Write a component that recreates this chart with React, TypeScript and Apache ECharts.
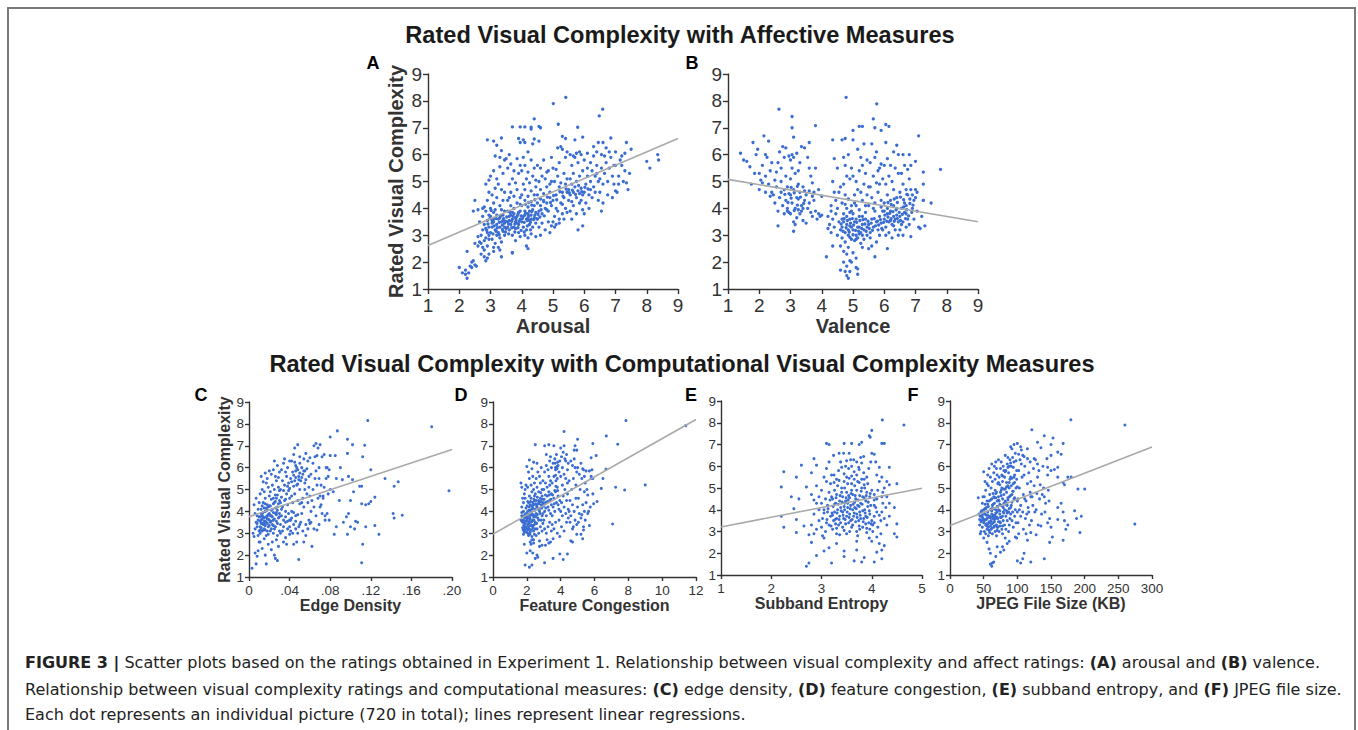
import React, { useEffect, useRef } from 'react';
import * as echarts from 'echarts';

const FONT = '"Liberation Sans", Arial, Helvetica, sans-serif';
const CAPFONT = '"DejaVu Sans", "Liberation Sans", Arial, sans-serif';
const DOT = '#3a6dd1';
const REG = '#a9a9a9';
const INK = '#333333';

// ---------- data ----------
const arousalPts: number[][] = [
  [2.0,1.8],[2.1,1.6],[2.2,1.55],[2.25,1.4],[2.3,1.6],[2.2,1.7],[2.35,1.85],[2.4,1.8],[2.4,2.0],[2.5,1.9],[2.55,1.85],[2.45,2.05],[2.25,2.4],[2.5,2.7],[2.6,2.6],[2.75,2.55],[2.8,2.2],[2.85,2.05],[2.95,2.3],[3.1,2.4],[3.35,2.2],[3.7,2.35],[4.15,2.6],[4.2,2.5],[5.8,3.2],[5.95,3.35],[2.5,4.3],[2.45,3.9],
  [2.7,3.0],[2.75,3.2],[2.8,3.4],[2.85,2.9],[2.9,3.1],[2.95,3.3],[2.7,2.7],[2.8,2.8],[2.9,2.6],[2.95,2.85],[2.65,3.5],[2.75,3.7],[2.85,3.9],[2.8,4.05],[2.9,4.3],[2.95,4.6],[2.85,4.9],[2.95,5.05],[2.75,4.0],[2.6,3.95],[2.9,3.55],[2.95,3.75],[2.7,2.3],[2.8,2.45],[2.9,2.15],[2.95,3.0],[2.85,3.25],[2.6,2.95],[2.65,2.75],
  [3.0,3.1],[3.05,3.3],[3.1,3.5],[3.15,3.2],[3.2,3.4],[3.25,3.6],[3.3,3.3],[3.35,3.5],[3.4,3.15],[3.45,3.45],[3.0,3.7],[3.1,3.85],[3.2,3.0],[3.3,2.9],[3.4,3.75],[3.05,2.85],[3.15,2.7],[3.25,2.55],[3.35,2.75],[3.45,3.0],[3.0,4.0],[3.1,4.2],[3.2,4.4],[3.3,4.1],[3.4,4.3],[3.45,4.6],[3.05,4.5],[3.15,4.75],[3.25,4.9],[3.35,4.7],[3.0,5.2],[3.1,5.4],[3.2,5.1],[3.3,5.55],[3.4,5.3],[3.45,5.8],[3.3,5.9],[3.15,5.95],[3.5,5.85],[3.2,6.35],[3.35,6.15],[3.1,3.6],[3.2,3.75],[3.3,3.65],[3.4,3.55],[3.45,3.3],[3.25,3.1],[3.05,3.45],[3.35,3.95],[3.45,3.9],[3.15,3.95],[3.5,3.25],[3.1,2.55],[3.3,2.45],[2.9,6.55],[3.1,6.5],[3.35,6.62],
  [3.55,3.5],[3.6,3.7],[3.65,3.4],[3.7,3.6],[3.75,3.8],[3.8,3.5],[3.85,3.7],[3.9,3.4],[3.95,3.6],[3.55,3.9],[3.65,4.1],[3.75,4.0],[3.85,4.2],[3.95,3.9],[3.6,3.2],[3.7,3.0],[3.8,3.25],[3.9,3.1],[3.55,4.3],[3.65,4.6],[3.75,4.45],[3.85,4.7],[3.95,4.4],[3.6,4.9],[3.7,5.1],[3.8,4.95],[3.9,5.3],[3.55,5.5],[3.65,5.65],[3.75,5.4],[3.85,5.85],[3.95,5.6],[3.6,6.0],[3.7,2.35],[3.8,2.8],[3.95,2.95],[3.6,3.55],[3.7,3.85],[3.8,3.65],[3.9,3.85],[3.55,3.3],[3.65,3.75],[3.75,3.3],[3.85,3.45],[3.95,4.15],[3.6,4.4],[3.9,6.6],[3.95,6.45],[3.7,7.03],[3.95,7.03],
  [4.0,3.5],[4.05,3.7],[4.1,3.9],[4.15,3.6],[4.2,3.8],[4.25,3.55],[4.3,3.75],[4.35,3.95],[4.4,3.65],[4.45,3.85],[4.0,4.1],[4.1,4.3],[4.2,4.05],[4.3,4.25],[4.4,4.1],[4.05,3.3],[4.15,3.2],[4.25,3.4],[4.35,3.3],[4.45,3.45],[4.0,4.5],[4.1,4.7],[4.2,4.45],[4.3,4.65],[4.4,4.5],[4.45,4.8],[4.05,4.9],[4.15,5.1],[4.25,4.95],[4.35,5.2],[4.45,5.05],[4.0,5.4],[4.1,5.6],[4.2,5.35],[4.3,5.8],[4.4,5.5],[4.05,5.9],[4.2,6.1],[4.1,3.0],[4.2,2.9],[4.3,3.05],[4.45,2.95],[4.05,6.55],[4.1,6.45],[4.1,7.03],[4.3,6.95],[4.4,7.33],[4.35,6.4],[4.2,3.65],[4.3,3.6],[4.1,3.75],[4.25,3.9],[4.4,6.58],[4.3,7.02],
  [4.5,3.6],[4.55,3.9],[4.6,4.1],[4.65,3.8],[4.7,4.3],[4.75,4.0],[4.8,4.2],[4.85,3.9],[4.9,4.4],[4.95,4.1],[4.5,4.5],[4.6,4.7],[4.7,4.55],[4.8,4.8],[4.9,4.6],[4.55,5.0],[4.65,5.2],[4.75,5.1],[4.85,5.4],[4.95,5.0],[4.5,5.6],[4.6,5.5],[4.7,5.8],[4.8,5.35],[4.55,3.3],[4.65,3.45],[4.75,3.2],[4.85,3.5],[4.95,3.35],[4.6,3.0],[4.9,3.1],[4.55,6.5],[4.6,7.0],[4.55,7.05],[4.95,5.9],[4.7,4.25],[4.8,3.95],[4.5,4.2],[4.9,4.9],[4.6,4.35],
  [5.0,3.5],[5.05,3.7],[5.1,3.4],[5.15,3.9],[5.2,3.6],[5.25,4.2],[5.3,3.8],[5.35,4.4],[5.4,4.0],[5.45,4.6],[5.0,4.3],[5.1,4.5],[5.2,4.8],[5.3,4.6],[5.4,4.9],[5.05,5.0],[5.15,5.2],[5.25,4.95],[5.35,5.3],[5.45,5.1],[5.0,5.5],[5.1,5.45],[5.2,5.7],[5.3,6.2],[5.4,5.9],[5.45,6.1],[5.25,6.3],[5.15,6.25],[5.05,3.3],[5.2,3.45],[5.35,3.6],[5.45,3.85],[5.3,6.68],[5.4,6.6],[5.41,8.13],[5.01,7.9],[5.17,7.13],[5.5,4.3],[5.3,4.15],[5.1,4.0],
  [5.5,4.7],[5.55,4.5],[5.6,4.9],[5.65,4.6],[5.7,4.8],[5.75,4.4],[5.8,4.65],[5.85,4.55],[5.9,4.75],[5.95,4.5],[5.55,5.1],[5.65,5.3],[5.75,5.0],[5.85,5.2],[5.95,5.4],[5.6,5.6],[5.7,5.9],[5.8,5.7],[5.9,6.0],[5.55,6.0],[5.65,5.95],[5.75,6.05],[5.85,6.1],[5.55,3.9],[5.65,4.1],[5.75,3.8],[5.85,4.2],[5.95,3.95],[5.6,3.6],[5.7,6.55],[5.95,6.65],[5.79,7.02],[5.9,4.3],[5.6,4.25],
  [6.0,4.6],[6.05,4.9],[6.1,5.2],[6.15,4.5],[6.2,5.0],[6.25,5.4],[6.3,4.8],[6.35,5.2],[6.4,5.6],[6.45,5.0],[6.0,5.8],[6.1,6.05],[6.2,5.7],[6.3,5.95],[6.4,6.1],[6.05,4.2],[6.15,4.0],[6.25,4.4],[6.35,4.6],[6.45,4.3],[6.0,3.8],[6.1,5.5],[6.3,6.3],[6.45,6.45],[6.2,4.7],[6.4,5.3],
  [6.5,5.1],[6.55,5.5],[6.6,4.9],[6.65,5.3],[6.7,5.7],[6.75,5.0],[6.8,5.5],[6.85,5.9],[6.9,5.2],[6.95,5.6],[6.55,6.0],[6.7,6.25],[6.85,6.62],[6.6,6.45],[6.5,4.6],[6.6,4.2],[6.55,3.9],[6.75,4.5],[6.9,4.4],[6.95,4.9],[6.65,5.95],[6.8,6.1],[6.48,7.44],[6.59,7.69],
  [7.0,5.6],[7.05,4.6],[7.1,5.2],[7.15,5.8],[7.2,5.6],[7.25,5.0],[7.3,5.4],[7.35,4.95],[7.4,4.7],[7.3,6.05],[7.35,6.45],[7.5,6.2],[7.0,6.1],[7.1,4.9],[7.2,5.95],[8.0,5.75],[8.1,5.5],[8.35,6.0],[8.38,5.8],[7.45,5.3],[7.0,4.65]
];
const arousalCorePts: number[][] = [
  [3.05,3.55],[3.12,3.35],[3.18,3.62],[3.22,3.28],[3.28,3.48],[3.32,3.72],[3.38,3.38],[3.42,3.62],[3.48,3.52],[3.52,3.68],[3.58,3.42],[3.62,3.85],[3.68,3.52],[3.72,3.7],[3.78,3.42],[3.82,3.58],[3.88,3.78],[3.92,3.52],[3.98,3.72],[4.02,3.62],[4.08,3.48],[4.12,3.82],[4.18,3.55],[4.22,3.72],[4.28,3.48],[4.32,3.88],[4.38,3.58],[4.42,3.75],[4.48,3.62],[4.52,3.78],[4.58,3.68],[3.08,3.05],[3.18,3.15],[3.28,3.02],[3.38,3.22],[3.48,3.12],[3.58,3.05],[3.68,3.28],[3.78,3.12],[3.88,3.28],[3.98,3.18],[4.08,3.12],[4.18,3.35],[4.28,3.2],[2.92,3.42],[2.98,3.62],[2.88,3.18],[3.02,3.92],[4.12,4.15],[4.22,4.22],[4.32,4.12],[4.42,4.32],[4.62,3.95],[4.72,3.72],[4.82,4.42],[4.92,4.22],[5.02,4.48],[5.12,4.32],[5.22,4.62],[5.32,4.45],[5.42,4.72],[5.52,4.58],[5.62,4.68],[5.72,4.52],[5.82,4.85],[5.92,4.62],[6.02,4.78],[6.12,4.72]
];

const valencePts: number[][] = [
  [4.78,8.13],[5.76,7.89],[2.63,7.69],[3.05,7.42],[3.05,7.0],[3.1,6.65],[3.8,7.08],[5.65,7.33],[5.7,7.0],[5.2,7.05],[5.3,7.05],[5.0,6.9],[6.05,7.12],[6.15,7.05],[5.9,6.9],[7.1,6.7],[7.8,5.45],[7.5,4.2],[7.25,5.35],[7.25,4.3],[4.75,6.6],[4.65,6.55],[4.35,6.55],[5.0,6.55],
  [1.4,6.05],[1.5,5.8],[1.6,5.75],[1.7,5.55],[1.75,4.9],[1.8,6.45],[1.9,6.0],[1.95,6.2],[2.0,5.3],[2.05,5.05],[2.0,4.7],[2.1,5.6],[2.15,6.7],[2.2,6.0],[2.25,5.9],[2.3,6.5],[2.35,5.4],[2.2,5.2],[2.3,4.9],[2.4,4.6],[2.45,4.5],[2.5,5.05],[2.55,5.35],[2.6,5.7],[2.65,6.1],[2.7,5.5],[2.75,6.3],[2.8,5.9],[2.85,5.2],[2.9,4.8],[2.95,4.55],[2.5,4.2],[2.6,3.9],[2.65,4.4],[2.7,4.6],[2.75,4.1],[2.8,3.8],[2.85,4.3],[2.9,4.0],[2.95,3.85],[2.6,3.35],[2.7,5.0],[2.35,4.45],[2.55,4.8],[2.8,4.7],
  [3.0,4.5],[3.05,4.2],[3.1,4.7],[3.15,4.0],[3.2,4.4],[3.25,4.9],[3.3,4.6],[3.35,4.1],[3.4,4.8],[3.45,4.3],[3.0,5.1],[3.05,5.5],[3.1,5.9],[3.15,5.3],[3.2,6.05],[3.25,5.4],[3.3,5.7],[3.35,6.3],[3.45,6.25],[3.6,6.45],[3.55,5.9],[3.6,5.5],[3.65,5.2],[3.7,4.95],[3.75,4.6],[3.8,5.5],[3.5,4.5],[3.55,4.0],[3.6,4.2],[3.65,3.85],[3.7,3.7],[3.75,4.3],[3.8,3.9],[3.85,3.6],[3.9,3.8],[3.95,3.7],[4.0,3.75],[3.9,4.7],[4.0,4.45],[3.0,3.8],[3.1,3.5],[3.15,3.4],[3.2,3.65],[3.3,3.8],[3.4,3.55],[3.5,3.45],[3.35,3.9],[3.1,3.15],[2.9,3.9],[3.0,5.8],[2.95,5.95],[3.05,6.0],[2.85,6.25],[2.2,4.6],[2.1,4.95],[1.85,5.3],[2.4,5.7],[3.25,4.35],[3.45,4.65],[3.4,4.0],[3.25,3.95],[3.6,4.65],[3.7,4.45],
  [4.7,2.0],[4.75,1.65],[4.8,1.5],[4.85,1.4],[4.9,1.65],[4.8,1.85],[4.95,2.0],[5.1,1.8],[5.15,1.55],[5.1,2.15],[4.8,2.3],[4.7,2.4],[5.0,2.35],[4.6,1.7],[4.9,2.05],[5.15,1.75],[5.7,2.2],[6.1,2.5],[4.15,2.2],[4.35,2.6],[5.5,2.5],[5.6,2.6],[5.3,2.55],
  [4.25,3.4],[4.3,3.1],[4.35,3.6],[4.4,3.3],[4.45,3.8],[4.5,3.0],[4.55,3.5],[4.2,3.7],[4.3,4.1],[4.4,4.6],[4.45,4.3],[4.5,4.0],[4.55,4.6],[4.6,3.2],[4.35,5.0],[4.5,5.5],[4.4,5.85],[4.3,3.9],[4.2,3.25],[4.6,4.8],
  [4.65,3.3],[4.7,3.5],[4.75,3.1],[4.8,3.4],[4.85,3.2],[4.9,3.6],[4.95,3.3],[4.65,2.9],[4.75,2.75],[4.85,3.0],[4.95,2.85],[4.7,3.8],[4.8,4.0],[4.9,3.85],[4.65,4.2],[4.75,4.5],[4.85,4.35],[4.95,4.1],[4.7,4.9],[4.8,5.2],[4.9,5.1],[4.95,5.5],[4.75,5.6],[4.85,6.0],[4.7,5.9],[4.65,3.6],[4.9,3.35],[4.8,3.7],[4.95,3.9],[4.75,4.15],[4.85,2.55],[4.6,2.6],
  [5.0,3.2],[5.05,3.5],[5.1,3.0],[5.15,3.3],[5.2,3.7],[5.25,3.1],[5.3,3.4],[5.35,3.2],[5.4,3.6],[5.45,3.0],[5.0,3.8],[5.1,4.1],[5.2,3.95],[5.3,4.3],[5.4,4.1],[5.05,4.5],[5.15,4.7],[5.25,4.6],[5.35,4.9],[5.45,4.5],[5.0,5.2],[5.1,5.0],[5.2,5.4],[5.3,5.6],[5.4,5.3],[5.45,5.8],[5.15,6.2],[5.35,6.4],[5.25,5.9],[5.05,2.8],[5.15,2.9],[5.25,2.7],[5.35,2.85],[5.45,3.3],[5.1,3.6],[5.3,3.7],[5.05,4.2],[5.5,4.8],[5.2,3.3],[5.4,3.85],
  [5.5,3.4],[5.55,3.1],[5.6,3.6],[5.65,3.3],[5.7,3.9],[5.75,3.5],[5.8,3.2],[5.85,3.7],[5.9,3.45],[5.95,3.9],[5.5,4.1],[5.6,4.4],[5.7,4.2],[5.8,4.6],[5.9,4.3],[5.55,4.8],[5.65,5.2],[5.75,4.95],[5.85,5.5],[5.95,5.1],[5.55,5.7],[5.7,5.9],[5.8,5.4],[5.9,5.65],[5.6,6.4],[5.75,6.1],[5.55,2.9],[5.75,2.75],[5.85,3.0],[5.95,3.2],[5.65,4.0],[5.9,4.05],[5.85,4.9],
  [6.0,3.6],[6.05,3.3],[6.1,3.8],[6.15,3.5],[6.2,3.9],[6.25,3.4],[6.3,3.7],[6.35,3.6],[6.4,4.0],[6.45,3.5],[6.0,4.2],[6.1,4.5],[6.2,4.3],[6.3,4.7],[6.4,4.4],[6.05,4.9],[6.15,5.2],[6.25,5.0],[6.35,5.5],[6.45,5.3],[6.0,5.6],[6.1,5.85],[6.2,5.6],[6.3,6.1],[6.4,6.35],[6.05,6.45],[6.45,6.0],[6.05,3.0],[6.15,3.1],[6.25,2.9],[6.35,3.2],[6.45,3.0],[6.1,4.0],[6.3,4.1],[6.2,3.55],[6.4,3.75],[6.0,3.9],[6.3,3.35],
  [6.5,3.7],[6.55,4.0],[6.6,3.5],[6.65,4.2],[6.7,3.8],[6.75,4.5],[6.8,3.4],[6.85,4.7],[6.9,4.0],[6.95,4.3],[6.5,4.6],[6.6,4.9],[6.7,4.7],[6.8,5.1],[6.9,4.5],[6.55,5.3],[6.65,5.6],[6.75,5.45],[6.85,5.6],[6.6,6.0],[6.8,6.0],[6.5,3.2],[6.6,3.0],[6.7,3.3],[6.85,2.95],[6.95,3.6],[6.55,3.4],[6.7,4.1],[6.65,3.85],[6.75,3.6],
  [7.0,4.4],[7.05,4.6],[7.1,3.3],[7.15,3.25],[7.2,3.7],[7.25,4.3],[7.3,3.35],[7.0,4.7],[7.0,5.75],[7.05,3.9],[7.25,4.9]
];
const valenceCorePts: number[][] = [
  [2.82,4.52],[2.92,4.22],[3.02,4.38],[3.12,4.58],[3.22,4.12],[3.32,4.42],[3.42,4.18],[3.12,3.92],[3.22,4.82],[3.02,4.78],
  [4.62,3.42],[4.68,3.15],[4.72,3.62],[4.78,3.28],[4.82,3.55],[4.88,3.12],[4.92,3.45],[4.98,3.62],[5.02,3.38],[5.08,3.18],[5.12,3.48],[5.18,3.15],[5.22,3.55],[5.28,3.25],[5.32,3.58],[5.38,3.42],[5.42,3.15],[5.48,3.52],[5.52,3.25],[5.58,3.45],[5.62,3.18],[5.68,3.62],[5.72,3.35],[5.78,3.52],[5.82,3.38],[5.88,3.58],[5.92,3.25],[5.98,3.48],[6.02,3.75],[6.08,3.52],[6.12,3.68],[6.18,3.82],[6.22,3.62],[6.28,3.88],[6.32,3.52],[6.38,3.95],[6.42,3.62],[6.48,3.85],[6.52,3.55],[6.58,3.78],[6.62,4.05],[6.68,3.62],[6.72,3.95],[6.78,3.72],[6.82,4.18],[6.88,3.85],[6.92,4.12],[6.12,4.22],[6.22,4.15],[6.32,4.35],[6.42,4.22],[6.52,4.42],[6.62,4.32],[6.72,4.52],[6.82,4.35],[5.0,3.02],[5.1,2.85],[5.2,3.05],[4.9,2.92],[5.3,3.0]
];

const edgePts: number[][] = [
  [0.117,8.15],[0.18,7.87],[0.197,4.94],[0.087,7.68],[0.08,7.4],[0.097,7.3],[0.102,7.05],[0.114,7.02],[0.112,6.5],[0.097,6.65],[0.085,6.55],[0.09,6.0],[0.098,5.6],[0.102,5.45],[0.12,5.9],[0.134,5.5],[0.143,5.15],[0.147,5.35],[0.109,5.15],[0.111,5.15],[0.103,4.9],[0.1,4.5],[0.111,4.35],[0.118,4.35],[0.12,4.45],[0.124,4.65],[0.142,3.9],[0.143,3.7],[0.151,3.82],[0.096,3.75],[0.098,3.9],[0.1,3.3],[0.105,3.55],[0.104,3.2],[0.097,2.95],[0.107,3.5],[0.086,3.3],[0.084,2.95],[0.093,3.5],[0.115,3.3],[0.128,2.95],[0.124,3.35],[0.112,2.5],[0.111,1.65],[0.089,4.5],[0.083,4.9],[0.08,5.0],[0.092,5.45],[0.086,5.5],[0.115,4.3],
  [0.003,1.4],[0.005,2.85],[0.006,3.2],[0.007,3.5],[0.008,3.8],[0.009,4.1],[0.005,4.3],[0.006,2.1],[0.007,1.6],[0.008,1.95],[0.009,2.2],[0.004,3.0],[0.008,3.3],[0.009,3.6],[0.006,3.9],[0.01,4.4],[0.009,2.9],[0.01,3.1],[0.007,4.6],[0.01,2.6],
  [0.011,3.3],[0.012,3.6],[0.013,3.9],[0.014,3.4],[0.015,3.7],[0.016,4.0],[0.017,3.5],[0.018,3.8],[0.019,4.2],[0.011,3.0],[0.013,3.1],[0.015,3.2],[0.017,2.9],[0.019,3.3],[0.012,4.1],[0.014,4.4],[0.016,4.6],[0.018,4.3],[0.02,4.7],[0.011,4.8],[0.013,5.0],[0.015,4.9],[0.017,5.3],[0.019,5.1],[0.012,5.6],[0.016,5.75],[0.018,5.5],[0.011,2.6],[0.013,2.3],[0.015,2.75],[0.017,1.6],[0.016,2.0],[0.019,2.5],[0.012,3.45],[0.014,3.75],[0.016,3.55],[0.018,3.65],[0.02,3.9],[0.013,3.8],[0.015,3.45],[0.017,4.15],[0.019,3.65],[0.011,3.75],[0.014,3.15],[0.018,3.1],[0.02,3.35],[0.02,5.85],[0.014,5.35],
  [0.021,3.5],[0.022,3.8],[0.023,4.1],[0.024,3.6],[0.025,4.4],[0.026,3.9],[0.027,4.6],[0.028,4.2],[0.029,3.7],[0.03,4.5],[0.021,4.9],[0.023,5.2],[0.025,5.0],[0.027,5.4],[0.029,5.1],[0.022,5.7],[0.024,5.9],[0.026,5.6],[0.028,6.1],[0.03,5.8],[0.025,6.3],[0.022,3.2],[0.024,3.0],[0.026,3.3],[0.028,2.9],[0.03,3.1],[0.023,2.6],[0.027,2.7],[0.029,2.4],[0.025,2.0],[0.026,1.85],[0.028,1.75],[0.022,2.25],[0.021,4.25],[0.024,4.35],[0.026,4.75],[0.028,3.45],[0.03,3.9],[0.022,4.55],[0.029,5.55],[0.024,3.35],[0.027,3.95],
  [0.031,3.4],[0.032,3.8],[0.033,4.2],[0.034,3.6],[0.035,4.5],[0.036,4.0],[0.037,4.8],[0.038,4.3],[0.039,3.9],[0.04,4.6],[0.031,5.0],[0.033,5.4],[0.035,5.2],[0.037,5.6],[0.039,5.3],[0.032,5.9],[0.034,6.2],[0.036,5.8],[0.038,6.0],[0.04,6.3],[0.035,6.4],[0.031,3.0],[0.033,3.1],[0.036,2.8],[0.038,3.2],[0.04,2.95],[0.034,2.6],[0.037,2.5],[0.032,4.1],[0.039,4.95],[0.031,4.4],[0.036,3.5],[0.04,3.6],
  [0.041,3.6],[0.042,4.0],[0.043,4.4],[0.044,3.4],[0.045,4.8],[0.046,3.8],[0.047,5.2],[0.048,4.5],[0.049,3.3],[0.05,5.0],[0.041,5.5],[0.043,5.8],[0.045,5.4],[0.047,6.0],[0.049,5.6],[0.042,6.3],[0.044,6.6],[0.046,6.1],[0.048,5.9],[0.05,6.2],[0.045,6.9],[0.048,7.05],[0.041,3.1],[0.043,3.0],[0.046,3.2],[0.048,3.0],[0.05,3.4],[0.044,2.5],[0.047,2.6],[0.049,1.8],[0.042,4.7],[0.05,4.35],[0.046,5.55],[0.044,5.15],[0.049,5.45],
  [0.051,3.5],[0.052,3.9],[0.053,4.6],[0.054,4.2],[0.055,5.0],[0.056,3.4],[0.057,4.8],[0.058,4.4],[0.059,3.6],[0.06,4.7],[0.051,5.4],[0.053,5.7],[0.055,5.3],[0.057,5.95],[0.059,5.6],[0.052,6.0],[0.054,6.4],[0.056,6.65],[0.058,6.3],[0.06,6.45],[0.053,3.1],[0.056,2.9],[0.058,3.2],[0.06,3.45],[0.054,2.6],[0.052,4.4],[0.055,5.85],[0.059,5.1],
  [0.061,4.0],[0.062,4.5],[0.063,5.0],[0.064,4.2],[0.065,5.5],[0.066,3.8],[0.067,5.2],[0.068,4.6],[0.069,6.0],[0.07,4.7],[0.061,5.7],[0.063,6.2],[0.065,6.5],[0.067,6.55],[0.069,5.5],[0.062,2.4],[0.064,7.0],[0.066,7.1],[0.068,6.9],[0.07,7.05],[0.064,3.2],[0.067,3.15],[0.069,3.4],[0.061,3.5],[0.066,5.85],[0.07,4.2],
  [0.071,4.3],[0.072,3.9],[0.073,4.6],[0.074,5.1],[0.075,3.6],[0.076,5.5],[0.077,6.0],[0.078,4.8],[0.079,5.9],[0.08,6.55],[0.072,6.5],[0.074,6.6],[0.076,6.0],[0.078,5.6],[0.073,4.7],[0.075,3.8],[0.077,3.9],[0.079,3.6],[0.071,5.2]
];
const edgeCorePts: number[][] = [
  [0.008,3.45],[0.01,3.75],[0.011,3.55],[0.012,3.25],[0.013,3.65],[0.014,3.95],[0.015,3.55],[0.016,3.35],[0.017,3.75],[0.018,3.45],[0.019,3.85],[0.02,3.6],[0.021,3.8],[0.022,3.55],[0.023,3.75],[0.024,3.95],[0.025,3.65],[0.026,4.15],[0.027,3.85],[0.028,4.05],[0.029,4.35],[0.03,3.75],[0.012,3.9],[0.013,4.25],[0.015,4.15],[0.016,4.35],[0.018,4.05],[0.02,4.25],[0.022,4.05],[0.024,4.6],[0.026,4.45],[0.028,4.75],[0.03,4.95],[0.032,4.65],[0.034,4.95],[0.036,4.55],[0.038,5.15],[0.04,5.05],[0.042,5.35],[0.044,5.65],[0.046,5.85],[0.048,5.25],[0.05,5.75],[0.052,5.55],[0.054,5.85],[0.056,5.45],[0.045,6.25],[0.05,6.5],[0.011,3.15],[0.013,3.45],[0.016,3.15],[0.019,2.95],[0.021,3.1],[0.023,3.4],[0.025,3.2],[0.027,3.55],[0.034,3.3],[0.036,3.75],[0.038,3.55],[0.04,3.3],[0.042,3.7],[0.044,3.95],[0.046,3.55],[0.048,3.85]
];

const congestionPts: number[][] = [
  [7.86,8.15],[11.39,7.92],[6.7,7.45],[7.37,7.07],[9.0,5.21],[7.25,5.1],[7.78,4.98],[7.07,3.42],[6.68,5.93],[6.4,5.05],[6.15,4.45],[6.5,5.5],[5.95,4.35],[5.85,5.9],[5.9,5.5],[5.9,7.1],[6.1,6.55],[5.8,6.45],[5.0,7.3],[4.2,7.65],[4.85,7.0],[4.2,7.0],[3.3,7.05],[3.6,7.0],[3.05,7.0],[2.5,7.05],[2.0,6.05],[2.15,6.35],[1.65,5.3],[1.7,5.1],
  [1.9,1.55],[2.15,1.45],[2.3,1.55],[2.0,2.1],[2.2,2.2],[2.35,2.1],[2.5,1.85],[2.65,1.9],[2.75,2.4],[3.05,1.65],[3.1,2.45],[3.3,2.55],[3.55,1.85],[3.95,2.05],[4.15,1.8],[4.4,2.05],[2.25,2.5],[2.6,2.0],[1.85,2.5],[2.4,2.55],[2.9,2.45],[4.7,2.6],[5.2,2.95],[5.3,2.75],[5.35,3.15],[5.35,3.3],[4.95,2.95],[4.7,3.2],
  [1.65,3.6],[1.7,3.8],[1.75,3.5],[1.8,4.0],[1.85,3.4],[1.9,3.7],[1.95,3.9],[1.7,4.2],[1.8,4.4],[1.9,4.6],[1.75,3.25],[1.85,3.05],[1.95,3.3],[1.8,2.95],[1.9,3.15],[2.0,3.55],[1.95,4.15],[1.85,4.8],[1.9,5.0],[1.95,5.2],[1.7,3.95],[1.8,3.6],[1.9,3.45],[1.75,4.6],[1.85,3.75],[2.0,3.2],
  [2.05,3.4],[2.1,3.7],[2.15,3.2],[2.2,3.9],[2.25,3.5],[2.3,4.1],[2.35,3.6],[2.4,4.3],[2.45,3.8],[2.05,4.0],[2.1,4.4],[2.15,4.7],[2.2,4.3],[2.25,4.6],[2.3,4.9],[2.35,4.4],[2.4,5.0],[2.45,4.5],[2.05,5.1],[2.15,5.5],[2.25,5.2],[2.35,5.6],[2.45,5.3],[2.1,5.8],[2.3,5.95],[2.4,6.25],[2.05,3.0],[2.1,2.9],[2.2,3.05],[2.3,2.85],[2.4,3.1],[2.45,2.95],[2.15,3.55],[2.25,3.85],[2.35,3.25],[2.45,3.4],[2.1,3.3],[2.2,3.65],[2.3,3.35],[2.4,3.75],[2.05,4.45],[2.2,4.05],[2.35,4.15],[2.45,4.7],[2.2,2.6],[2.3,2.7],[2.4,2.7],[2.15,4.2],
  [2.5,3.5],[2.55,3.9],[2.6,4.2],[2.65,3.7],[2.7,4.5],[2.75,4.0],[2.8,4.6],[2.85,4.3],[2.9,3.8],[2.95,4.4],[2.5,4.8],[2.6,5.1],[2.7,4.9],[2.8,5.3],[2.9,5.0],[2.55,5.5],[2.65,5.8],[2.75,5.6],[2.85,6.0],[2.95,5.4],[2.6,3.2],[2.7,3.0],[2.8,3.3],[2.9,3.1],[2.55,2.9],[2.75,2.65],[2.95,3.45],[2.65,4.35],[2.85,3.6],[2.6,6.2],[2.5,4.1],[2.7,3.6],[2.8,4.15],[2.9,4.7],[2.95,3.9],[2.55,4.5],
  [3.0,3.6],[3.05,4.0],[3.1,4.4],[3.15,3.8],[3.2,4.7],[3.25,4.2],[3.3,4.9],[3.35,4.5],[3.4,3.9],[3.45,4.3],[3.0,5.0],[3.1,5.3],[3.2,5.1],[3.3,5.6],[3.4,5.4],[3.05,5.8],[3.15,6.1],[3.25,5.9],[3.35,6.3],[3.45,6.0],[3.15,6.6],[3.4,6.5],[3.05,3.2],[3.15,3.0],[3.25,3.3],[3.35,3.5],[3.45,3.1],[3.2,2.7],[3.4,2.6],[3.0,4.3],[3.3,4.05],[3.45,4.8],[3.1,4.75],[3.35,5.2],
  [3.5,3.8],[3.55,4.2],[3.6,4.6],[3.65,4.0],[3.7,4.9],[3.75,4.4],[3.8,5.1],[3.85,4.7],[3.9,4.1],[3.95,4.5],[3.5,5.3],[3.6,5.6],[3.7,5.9],[3.75,6.0],[3.8,5.5],[3.9,5.8],[3.55,6.2],[3.65,6.4],[3.75,6.6],[3.85,6.1],[3.95,6.3],[3.5,3.4],[3.6,3.2],[3.7,3.5],[3.8,3.0],[3.9,3.6],[3.95,2.85],[3.55,2.75],[3.65,4.95],[3.85,4.3],[3.7,6.0],[3.8,6.05],
  [4.0,4.0],[4.05,4.4],[4.1,3.8],[4.15,4.7],[4.2,4.2],[4.25,5.0],[4.3,3.9],[4.35,4.5],[4.4,5.3],[4.45,4.1],[4.0,5.6],[4.1,6.0],[4.2,5.7],[4.3,6.3],[4.4,5.9],[4.05,6.5],[4.15,6.7],[4.25,6.4],[4.35,6.6],[4.05,3.3],[4.2,3.1],[4.35,3.5],[4.45,3.7],[4.1,5.2],[4.3,5.5],[4.4,4.8],[4.0,6.9],[4.45,6.2],
  [4.5,4.0],[4.55,4.5],[4.6,3.8],[4.65,5.0],[4.7,4.3],[4.75,5.5],[4.8,4.0],[4.85,6.0],[4.9,4.6],[4.95,5.8],[4.5,5.4],[4.6,6.3],[4.7,6.1],[4.8,6.4],[4.9,5.2],[4.55,3.5],[4.75,3.3],[4.85,3.6],[4.95,3.4],[4.6,2.65],[4.95,6.8],[4.8,6.8],
  [5.0,4.2],[5.05,4.6],[5.1,3.9],[5.15,5.0],[5.2,3.7],[5.25,5.5],[5.3,4.3],[5.35,5.9],[5.4,4.0],[5.45,5.3],[5.0,6.0],[5.1,5.7],[5.2,6.2],[5.3,5.95],[5.4,5.6],[5.05,3.5],[5.25,3.85],[5.45,3.6],[5.4,4.9],[5.5,5.85],
  [5.5,4.4],[5.6,4.75],[5.7,5.85],[5.75,4.2],[5.8,5.5],[5.6,3.9],[5.7,3.35],[5.55,5.0],[5.8,5.6],[5.65,4.0],[5.9,4.8]
];
const congestionCorePts: number[][] = [
  [1.72,3.55],[1.78,3.75],[1.82,3.35],[1.88,3.85],[1.92,3.55],[1.98,3.75],[2.02,3.65],[2.08,3.85],[2.12,3.45],[2.18,3.75],[2.22,3.35],[2.28,3.95],[2.32,3.55],[2.38,3.85],[2.42,3.6],[2.48,4.05],[2.52,3.75],[2.58,4.25],[2.62,3.85],[2.68,4.1],[2.72,4.35],[2.78,3.9],[2.82,4.45],[2.88,4.15],[2.92,4.55],[2.98,4.25],[2.02,4.25],[2.12,4.05],[2.22,4.45],[2.32,4.25],[2.42,4.55],[2.52,4.35],[2.62,4.65],[2.72,4.45],[2.82,4.85],[1.78,3.15],[1.88,3.25],[1.98,3.05],[2.08,3.15],[2.18,2.95],[2.28,3.15],[2.38,3.35],[2.48,3.2],[2.58,3.45],[3.02,4.55],[3.12,4.15],[3.22,4.45],[3.32,4.75],[3.42,4.55],[3.52,4.75],[3.62,4.35],[3.72,5.15],[3.82,4.95],[3.7,5.65],[3.78,5.95],[3.82,6.25],[3.68,6.2],[3.72,5.4]
];

const entropyPts: number[][] = [
  [4.21,8.13],[4.64,7.9],[4.0,7.65],[3.95,7.4],[3.97,7.33],[4.2,7.05],[4.25,7.05],[3.1,7.05],[3.15,7.0],[3.45,7.05],[3.6,7.05],[3.8,7.1],[3.75,7.0],[4.05,6.55],[4.0,6.6],[4.35,5.95],[4.5,5.2],[4.35,5.15],[4.45,4.1],[4.5,3.35],[4.45,2.9],[4.5,2.75],[2.25,5.75],[2.2,5.05],[2.5,5.5],[2.4,4.6],[2.55,4.5],[2.45,4.05],[2.2,3.7],[2.25,3.2],[2.5,3.55],[2.5,2.95],[2.65,3.25],[2.6,6.05],[2.7,5.05],[2.85,6.35],[2.75,2.85],[2.8,2.5],[2.9,1.9],[2.75,1.55],[2.7,1.4],[3.05,2.1],[3.15,2.25],[3.2,1.55],[3.45,1.85],[3.45,2.1],[3.65,1.65],[3.7,2.15],[3.8,1.6],[3.85,1.8],[4.05,1.6],[4.1,2.05],[4.2,1.75],[4.2,2.15],[4.15,2.45],[3.7,2.55],[3.3,2.45],[3.05,2.7],[4.0,2.55],
  [2.8,3.3],[2.85,3.8],[2.9,4.3],[2.95,3.5],[2.8,4.7],[2.9,5.1],[2.95,4.0],[2.85,2.9],[2.9,3.1],[2.95,4.6],[2.8,5.7],[2.9,6.05],[2.85,4.45],
  [3.0,3.2],[3.02,3.6],[3.05,4.0],[3.08,4.5],[3.1,3.4],[3.12,3.9],[3.15,4.8],[3.18,5.2],[3.0,4.3],[3.05,5.5],[3.1,5.9],[3.15,6.2],[3.02,2.8],[3.08,3.0],[3.12,4.2],[3.18,3.7],[3.0,4.9],[3.1,5.3],[3.15,3.3],[3.2,4.6],[3.05,3.85],[3.2,5.6],
  [3.22,3.1],[3.24,3.5],[3.26,3.9],[3.28,4.3],[3.3,4.7],[3.32,5.1],[3.34,3.3],[3.36,3.7],[3.38,4.1],[3.22,4.5],[3.26,4.9],[3.3,5.4],[3.34,5.8],[3.38,6.2],[3.24,6.5],[3.3,2.9],[3.36,2.85],[3.22,3.75],[3.28,3.35],[3.32,4.0],[3.36,4.4],[3.4,4.8],[3.25,5.6],[3.35,6.6],[3.3,3.6],[3.38,3.4],[3.4,5.0],[3.26,4.25],
  [3.42,3.2],[3.44,3.6],[3.46,4.0],[3.48,4.4],[3.5,4.8],[3.52,5.2],[3.54,3.4],[3.56,3.8],[3.58,4.2],[3.42,4.6],[3.46,5.0],[3.5,5.5],[3.54,5.9],[3.58,6.3],[3.44,6.6],[3.5,2.9],[3.56,3.0],[3.42,3.9],[3.48,3.35],[3.52,4.1],[3.56,4.55],[3.6,4.9],[3.45,5.3],[3.55,6.6],[3.5,3.7],[3.58,3.5],[3.6,5.2],[3.46,4.3],[3.52,4.3],[3.54,4.65],[3.48,6.0],[3.6,6.0],
  [3.62,3.3],[3.64,3.7],[3.66,4.1],[3.68,4.5],[3.7,4.9],[3.72,5.3],[3.74,3.5],[3.76,3.9],[3.78,4.3],[3.62,4.7],[3.66,5.1],[3.7,5.6],[3.74,5.95],[3.78,6.4],[3.64,6.3],[3.7,3.0],[3.76,3.1],[3.62,4.0],[3.68,3.45],[3.72,4.2],[3.76,4.65],[3.8,5.0],[3.65,5.4],[3.75,5.85],[3.7,3.8],[3.78,3.6],[3.8,5.4],[3.66,4.35],[3.72,2.8],[3.8,6.15],
  [3.82,3.2],[3.84,3.6],[3.86,4.0],[3.88,4.4],[3.9,4.8],[3.92,5.2],[3.94,3.4],[3.96,3.8],[3.98,4.2],[3.82,4.6],[3.86,5.0],[3.9,5.5],[3.94,5.9],[3.98,6.2],[3.84,6.45],[3.9,2.95],[3.96,3.1],[3.82,3.95],[3.88,3.35],[3.92,4.15],[3.96,4.6],[4.0,4.9],[3.85,5.4],[3.95,2.7],[3.88,3.7],[4.0,3.5],[3.84,5.7],
  [4.02,3.3],[4.05,3.7],[4.08,4.1],[4.1,4.5],[4.12,4.9],[4.15,5.3],[4.18,3.5],[4.2,3.9],[4.22,4.3],[4.05,4.7],[4.1,5.6],[4.15,5.95],[4.2,5.5],[4.02,3.0],[4.12,3.2],[4.25,3.6],[4.28,4.1],[4.3,4.6],[4.25,5.0],[4.08,6.2],[4.18,2.9],[4.3,3.3],[4.22,4.8],[4.05,4.2],[4.15,3.75],[4.3,5.3],[4.1,2.75],[4.25,2.35],[4.35,3.7],[4.35,4.3]
];
const entropyCorePts: number[][] = [
  [3.21,3.85],[3.23,4.15],[3.27,3.55],[3.29,4.55],[3.31,3.85],[3.33,4.25],[3.35,3.55],[3.37,4.65],[3.39,3.95],[3.41,4.35],[3.43,3.75],[3.45,4.15],[3.47,3.55],[3.49,4.55],[3.51,3.9],[3.53,4.45],[3.55,3.65],[3.57,4.05],[3.59,4.75],[3.61,3.55],[3.63,4.25],[3.65,3.85],[3.67,4.65],[3.69,4.05],[3.71,3.65],[3.73,4.45],[3.75,4.15],[3.77,3.75],[3.79,4.85],[3.81,4.25],[3.83,3.45],[3.85,4.55],[3.87,3.85],[3.89,4.65],[3.91,3.65],[3.93,4.35],[3.95,3.95],[3.97,4.75],[3.99,3.35],[3.11,3.55],[3.13,4.05],[3.17,4.45],[3.19,3.25],[3.25,5.25],[3.35,5.35],[3.45,5.65],[3.55,5.45],[3.65,5.75],[3.75,5.25],[3.85,5.15],[3.6,5.55],[3.4,5.95],[3.7,6.2],[3.5,6.25],[3.3,3.15],[3.45,3.05],[3.6,3.2],[3.75,3.25],[3.9,3.15],[4.05,3.4],[4.1,3.9],[4.2,4.6],[4.05,4.45]
];

const jpegPts: number[][] = [
  [179.5,8.14],[259.7,7.9],[274.5,3.34],[121.5,7.68],[140,7.4],[153,7.3],[168,7.05],[150,7.0],[130,7.1],[135,6.85],[100,7.05],[95,7.0],[90,6.9],[105,6.9],[115,6.8],[160,6.65],[165,6.55],[150,6.5],[125,6.35],[130,6.1],[145,5.95],[155,5.85],[160,5.95],[175,5.5],[180,5.5],[170,5.15],[168,5.25],[190,4.95],[200,4.95],[185,3.95],[188,3.6],[195,3.7],[193,2.95],[175,3.3],[172,3.1],[168,2.6],[152,2.75],[140,1.75],[148,2.5],[160,4.1],[165,4.3],[168,3.9],[160,3.55],[170,3.5],[160,5.5],[100,1.65],[105,1.55],[110,2.0],[108,1.75],[120,1.6],[62,1.4],[65,1.6],[60,1.5],[63,1.55],[68,1.85],[70,2.3],[60,2.0],[58,2.2],[75,2.05],[80,2.15],[85,2.45],[88,2.55],[78,2.3],[55,2.5],[50,2.7],[115,2.6],[120,2.95],[128,2.85],[135,3.25],[145,3.4],[150,3.2],
  [42,4.55],[44,3.3],[45,3.7],[46,3.9],[47,3.5],[48,3.2],[49,3.6],[50,4.0],[43,3.8],[46,3.0],[48,4.3],[50,3.4],[45,2.9],[49,4.6],[47,3.95],[50,5.75],[44,3.55],[48,3.75],
  [51,3.5],[52,3.8],[53,3.3],[54,4.1],[55,3.6],[56,3.9],[57,3.2],[58,4.4],[59,3.7],[60,4.0],[51,4.6],[53,4.9],[55,4.4],[57,5.1],[59,4.7],[52,5.3],[56,5.6],[58,5.9],[51,3.0],[53,2.9],[55,3.1],[57,2.8],[59,3.4],[54,3.55],[56,3.35],[58,3.65],[60,3.25],[52,4.25],[55,5.2],[60,5.5],[54,3.75],[57,4.15],[59,2.95],[53,4.05],
  [61,3.5],[62,3.8],[63,4.2],[64,3.4],[65,4.6],[66,3.7],[67,4.9],[68,4.0],[69,3.3],[70,4.4],[61,5.0],[63,5.3],[65,5.7],[67,5.4],[69,5.9],[62,6.1],[66,6.0],[68,6.2],[70,5.6],[61,3.1],[63,2.9],[65,3.2],[67,3.0],[69,2.8],[62,4.5],[64,4.75],[66,4.3],[68,3.6],[70,3.9],[64,3.6],[66,3.45],[68,4.55],[62,3.35],[70,3.2],[65,4.05],[67,3.75],[63,3.65],[69,4.8],
  [71,3.6],[72,4.0],[73,4.4],[74,3.8],[75,4.8],[76,4.2],[77,5.0],[78,4.5],[79,3.9],[80,4.7],[71,5.2],[73,5.5],[75,5.9],[77,5.6],[79,6.0],[72,6.3],[76,6.2],[78,5.3],[80,5.8],[71,3.2],[73,3.0],[75,3.4],[77,3.1],[79,3.5],[72,4.6],[74,4.25],[76,4.9],[78,3.7],[80,4.3],[74,3.25],[78,2.9],[71,4.15],[75,3.65],[79,4.1],
  [81,4.0],[82,4.4],[83,3.7],[84,4.8],[85,4.2],[86,5.1],[87,3.9],[88,4.6],[89,5.4],[90,4.1],[81,5.5],[83,5.8],[85,6.1],[87,5.7],[89,6.3],[82,6.5],[86,6.4],[88,6.0],[90,5.5],[81,3.3],[83,3.1],[85,3.5],[87,3.0],[89,3.6],[84,4.3],[86,4.55],[88,5.0],[90,3.8],[82,4.95],[84,5.25],[85,3.85],[82,2.7],[88,3.3],
  [91,4.2],[92,4.7],[93,3.9],[94,5.2],[95,4.5],[96,5.6],[97,4.0],[98,5.0],[99,5.8],[100,4.4],[91,6.0],[93,6.4],[95,6.2],[97,6.6],[99,5.4],[92,3.5],[94,3.2],[96,3.7],[98,3.4],[100,3.9],[91,5.1],[95,5.5],[97,2.75],[99,2.7],[93,4.85],[92,6.8],
  [101,4.5],[103,5.0],[105,4.2],[107,5.5],[109,4.7],[111,6.0],[113,4.4],[115,5.2],[117,3.9],[119,4.8],[102,5.8],[104,6.3],[106,6.1],[108,6.5],[110,5.6],[112,3.6],[114,3.8],[116,4.1],[118,3.3],[120,4.6],[101,3.4],[105,3.7],[109,3.1],[113,2.9],[117,5.7],[120,5.3],[103,4.0],[111,4.5],[115,6.35],[119,6.2],[108,3.9],[102,2.9],
  [122,4.6],[125,5.1],[128,4.0],[130,5.5],[133,4.5],[136,3.8],[139,5.0],[142,4.3],[145,5.6],[148,3.6],[124,5.9],[127,6.3],[132,5.8],[138,6.0],[144,6.35],[121,3.5],[126,3.9],[131,3.3],[137,4.7],[141,3.9],[146,4.9],[150,5.8],[123,4.2],[134,5.15],[129,4.75],[140,4.6],[147,4.4]
];
const jpegCorePts: number[][] = [
  [46,3.45],[48,3.65],[50,3.85],[52,3.55],[54,3.35],[56,3.75],[58,3.45],[60,3.65],[62,3.95],[64,3.75],[66,3.55],[68,3.85],[70,3.65],[72,3.45],[74,3.95],[76,3.65],[78,4.15],[80,3.85],[82,4.25],[84,3.95],[86,4.45],[88,4.05],[90,4.65],[92,4.35],[94,4.85],[96,4.55],[52,4.05],[56,4.25],[60,4.45],[64,4.25],[68,4.75],[72,4.45],[76,4.65],[80,4.95],[84,5.05],[88,5.25],[92,5.45],[96,5.25],[100,5.05],[74,5.15],[78,5.55],[82,5.75],[86,5.95],[90,6.15],[94,5.95],[98,6.25],[102,6.55],[106,6.75],[110,6.45],[55,3.25],[58,3.05],[62,3.15],[66,3.25],[70,3.05],[74,3.45],[78,3.25],[62,4.05],[66,4.55],[70,4.15],[72,5.25]
];

// regression line endpoints
const regArousal = [[1, 2.62], [9, 6.6]];
const regValence = [[1, 5.08], [9, 3.5]];
const regEdge = [[0, 3.76], [0.2, 6.83]];
const regCongestion = [[0, 2.96], [12, 8.2]];
const regEntropy = [[1, 3.21], [5, 4.99]];
const regJpeg = [[0, 3.28], [300, 6.88]];

const edgeTickLabels = ['0', '.04', '.08', '.12', '.16', '.20'];

const titleTop = 'Rated Visual Complexity with Affective Measures';
const titleBottom = 'Rated Visual Complexity with Computational Visual Complexity Measures';
const yTitle = 'Rated Visual Complexity';

const captionLines = [
  '{b|FIGURE 3 |} Scatter plots based on the ratings obtained in Experiment 1. Relationship between visual complexity and affect ratings: {b|(A)} arousal and {b|(B)} valence.',
  'Relationship between visual complexity ratings and computational measures: {b|(C)} edge density, {b|(D)} feature congestion, {b|(E)} subband entropy, and {b|(F)} JPEG file size.',
  'Each dot represents an individual picture (720 in total); lines represent linear regressions.'
];

type Panel = {
  letter: string; lx: number; ly: number;
  grid: { left: number; top: number; width: number; height: number };
  xMin: number; xMax: number; xInt: number; xName: string; yName: string;
  big: boolean; pts: number[][]; reg: number[][]; fmt?: (v: number) => string;
};

const panels: Panel[] = [
  { letter: 'A', lx: 373, ly: 63, grid: { left: 428, top: 74, width: 250, height: 215 }, xMin: 1, xMax: 9, xInt: 1, xName: 'Arousal', yName: yTitle, big: true, pts: arousalPts.concat(arousalCorePts), reg: regArousal },
  { letter: 'B', lx: 692, ly: 63, grid: { left: 728, top: 74, width: 250, height: 215 }, xMin: 1, xMax: 9, xInt: 1, xName: 'Valence', yName: '', big: true, pts: valencePts.concat(valenceCorePts), reg: regValence },
  { letter: 'C', lx: 201, ly: 395, grid: { left: 249, top: 402, width: 203, height: 175 }, xMin: 0, xMax: 0.2, xInt: 0.04, xName: 'Edge Density', yName: yTitle, big: false, pts: edgePts.concat(edgeCorePts), reg: regEdge, fmt: (v: number) => edgeTickLabels[Math.round(v / 0.04)] ?? '' },
  { letter: 'D', lx: 461, ly: 395, grid: { left: 493, top: 402, width: 203, height: 175 }, xMin: 0, xMax: 12, xInt: 2, xName: 'Feature Congestion', yName: '', big: false, pts: congestionPts.concat(congestionCorePts), reg: regCongestion },
  { letter: 'E', lx: 691, ly: 395, grid: { left: 721, top: 401, width: 201, height: 174 }, xMin: 1, xMax: 5, xInt: 1, xName: 'Subband Entropy', yName: '', big: false, pts: entropyPts.concat(entropyCorePts), reg: regEntropy },
  { letter: 'F', lx: 913, ly: 395, grid: { left: 950, top: 401, width: 202, height: 174 }, xMin: 0, xMax: 300, xInt: 50, xName: 'JPEG File Size (KB)', yName: '', big: false, pts: jpegPts.concat(jpegCorePts), reg: regJpeg },
];

function buildOption() {
  const grids: any[] = [];
  const xAxes: any[] = [];
  const yAxes: any[] = [];
  const series: any[] = [];
  const graphics: any[] = [];

  panels.forEach((p, i) => {
    const lab = p.big ? 19 : 13.5;
    const nam = p.big ? 20 : 16;
    grids.push({ ...p.grid, containLabel: false });
    const axisCommon = {
      type: 'value',
      gridIndex: i,
      nameLocation: 'middle',
      nameTextStyle: { fontFamily: FONT, fontWeight: 'bold', fontSize: nam, color: INK },
      axisLine: { show: true, onZero: false, lineStyle: { color: INK, width: 1.4 } },
      axisTick: { show: true, length: p.big ? 5 : 4, lineStyle: { color: INK, width: 1.4 } },
      splitLine: { show: false },
    };
    xAxes.push({
      ...axisCommon,
      min: p.xMin, max: p.xMax, interval: p.xInt,
      name: p.xName, nameGap: p.big ? 26 : 20,
      axisLabel: { fontFamily: FONT, fontSize: lab, color: INK, margin: p.big ? 7 : 6, showMinLabel: true, showMaxLabel: true, formatter: p.fmt },
    });
    yAxes.push({
      ...axisCommon,
      min: 1, max: 9, interval: 1,
      name: p.yName, nameGap: p.big ? 22 : 15,
      axisLabel: { fontFamily: FONT, fontSize: lab, color: INK, margin: p.big ? 6 : 5, showMinLabel: true, showMaxLabel: true },
    });
    series.push({
      type: 'scatter', xAxisIndex: i, yAxisIndex: i, data: p.pts,
      symbol: 'circle', symbolSize: p.big ? 3.3 : 3,
      itemStyle: { color: DOT, opacity: 1 }, z: 2, silent: true,
    });
    series.push({
      type: 'line', xAxisIndex: i, yAxisIndex: i, data: p.reg,
      symbol: 'none', lineStyle: { color: REG, width: 1.6 }, z: 3, silent: true,
    });
    graphics.push({
      type: 'text', x: p.lx, y: p.ly, z: 10,
      style: { text: p.letter, fontFamily: FONT, fontWeight: 'bold', fontSize: 18, fill: '#000', textAlign: 'center', textVerticalAlign: 'middle' },
    });
  });

  graphics.push({
    type: 'rect', shape: { x: 8, y: 8, width: 1347, height: 800 },
    style: { fill: 'none', stroke: '#7a7a7a', lineWidth: 2 }, z: 0,
  });
  graphics.push({
    type: 'text', x: 680, y: 35,
    style: { text: titleTop, fontFamily: FONT, fontWeight: 'bold', fontSize: 23.6, fill: '#1a1a1a', textAlign: 'center', textVerticalAlign: 'middle' },
  });
  graphics.push({
    type: 'text', x: 682, y: 364,
    style: { text: titleBottom, fontFamily: FONT, fontWeight: 'bold', fontSize: 23.6, fill: '#1a1a1a', textAlign: 'center', textVerticalAlign: 'middle' },
  });
  const capY = [662, 689, 714];
  captionLines.forEach((t, k) => {
    graphics.push({
      type: 'text', x: 25, y: capY[k],
      style: {
        text: t, fontFamily: CAPFONT, fontSize: 16, fill: '#222', textAlign: 'left', textVerticalAlign: 'middle',
        rich: { b: { fontFamily: CAPFONT, fontSize: 16, fontWeight: 'bold', fill: '#222' } },
      },
    });
  });

  return {
    animation: false,
    backgroundColor: '#ffffff',
    grid: grids,
    xAxis: xAxes,
    yAxis: yAxes,
    series,
    graphic: graphics,
  };
}

export default function App() {
  const ref = useRef<HTMLDivElement>(null);
  useEffect(() => {
    if (!ref.current) return;
    const chart = echarts.init(ref.current, undefined, { renderer: 'svg' });
    chart.setOption(buildOption() as any);
    return () => chart.dispose();
  }, []);
  return <div ref={ref} style={{ position: 'fixed', left: 0, top: 0, width: 1358, height: 730 }} />;
}
